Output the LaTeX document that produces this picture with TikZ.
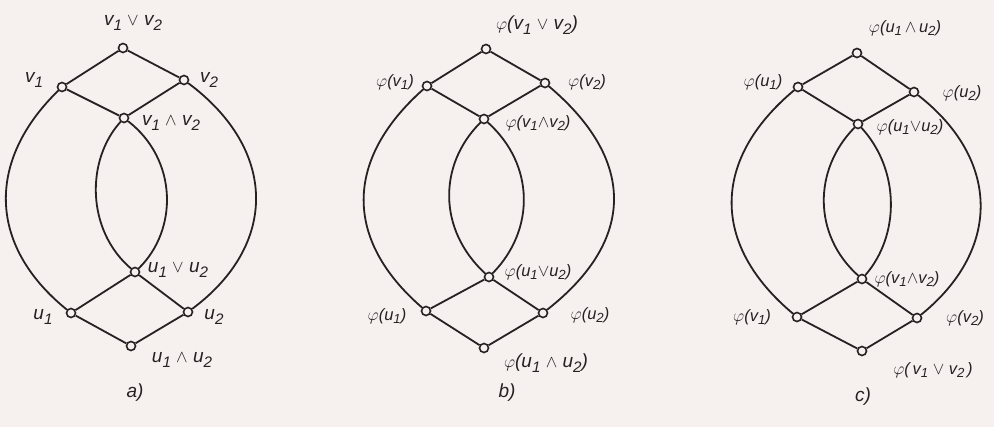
\documentclass[tikz,border=0pt]{standalone}
\usepackage{fontspec}
\usepackage{graphicx}
\newfontfamily\lblfont{Liberation Sans}
\definecolor{paper}{RGB}{246,240,239}
\definecolor{ink}{RGB}{38,34,34}
\newcommand{\sbs}[1]{\raisebox{-0.45ex}{\scalebox{0.8}{#1}}}
\newcommand{\V}[1]{v\sbs{#1}}
\newcommand{\U}[1]{u\sbs{#1}}
\newcommand{\J}{$\vee$}
\newcommand{\M}{$\wedge$}
\newcommand{\F}{$\varphi$}
\tikzset{
  vtx/.style={circle, draw=ink, fill=paper, line width=1.6pt, inner sep=0pt, minimum size=9pt},
  edge/.style={draw=ink, line width=1.8pt},
  lbl/.style={font=\lblfont\itshape\fontsize{19}{19}\selectfont, text=ink, inner sep=0pt},
  slbl/.style={font=\lblfont\itshape\fontsize{16.5}{16.5}\selectfont, text=ink, inner sep=0pt},
}
\begin{document}
\begin{tikzpicture}[x=1pt,y=-1pt]
\fill[paper] (0,0) rectangle (994,427);
\useasboundingbox (0,0) rectangle (994,427);

% ---------- a) ----------
\node[vtx] (at) at (123,48) {};
\node[vtx] (av1) at (62,87) {};
\node[vtx] (av2) at (184,80) {};
\node[vtx] (avm) at (124,118) {};
\node[vtx] (auj) at (135,272) {};
\node[vtx] (au1) at (71,313) {};
\node[vtx] (au2) at (188,312) {};
\node[vtx] (ab) at (131,346) {};
\draw[edge] (at) -- (av1); \draw[edge] (at) -- (av2);
\draw[edge] (av1) -- (avm); \draw[edge] (av2) -- (avm);
\draw[edge] (auj) -- (au1); \draw[edge] (auj) -- (au2);
\draw[edge] (au1) -- (ab); \draw[edge] (au2) -- (ab);
\draw[edge] (av1) .. controls (-13,160) and (-13,245) .. (au1);
\draw[edge] (av2) .. controls (278,150) and (278,245) .. (au2);
\draw[edge] (avm) .. controls (86,160) and (86,230) .. (auj);
\draw[edge] (avm) .. controls (178,160) and (178,230) .. (auj);
\node[lbl] (lat) at (133,23) {\V1 \J\ \V2};
\node[lbl] (lav1) at (34,80) {\V1};
\node[lbl] (lav2) at (209,80) {\V2};
\node[lbl] (lavm) at (171,123) {\V1 \M\ \V2};
\node[lbl] (lauj) at (178,270) {\U1 \J\ \U2};
\node[lbl] (lau1) at (43,317) {\U1};
\node[lbl] (lau2) at (214,317) {\U2};
\node[lbl] (lab) at (182,360) {\U1 \M\ \U2};
\node[lbl] (capa) at (135,393) {a)};

% ---------- b) ----------
\node[vtx] (bt) at (486,49) {};
\node[vtx] (bv1) at (427,86) {};
\node[vtx] (bv2) at (545,83) {};
\node[vtx] (bvm) at (484,119) {};
\node[vtx] (buj) at (489,277) {};
\node[vtx] (bu1) at (426,311) {};
\node[vtx] (bu2) at (543,313) {};
\node[vtx] (bb) at (484,348) {};
\draw[edge] (bt) -- (bv1); \draw[edge] (bt) -- (bv2);
\draw[edge] (bv1) -- (bvm); \draw[edge] (bv2) -- (bvm);
\draw[edge] (buj) -- (bu1); \draw[edge] (buj) -- (bu2);
\draw[edge] (bu1) -- (bb); \draw[edge] (bu2) -- (bb);
\draw[edge] (bv1) .. controls (344,160) and (344,240) .. (bu1);
\draw[edge] (bv2) .. controls (636,160) and (636,240) .. (bu2);
\draw[edge] (bvm) .. controls (438,165) and (438,230) .. (buj);
\draw[edge] (bvm) .. controls (535,165) and (535,230) .. (buj);
\node[lbl] (lbt) at (537,25) {\F(\V1 \J\ \V2)};
\node[slbl] (lbv1) at (395,82) {\F(\V1)};
\node[slbl] (lbv2) at (587,82) {\F(\V2)};
\node[slbl] (lbvm) at (538,123) {\F(\V1\M\V2)};
\node[slbl] (lbuj) at (538,272) {\F(\U1\J\U2)};
\node[slbl] (lbu1) at (387,316) {\F(\U1)};
\node[slbl] (lbu2) at (590,315) {\F(\U2)};
\node[lbl] (lbb) at (546,363) {\F(\U1 \M\ \U2)};
\node[lbl] (capb) at (507,393) {b)};

% ---------- c) ----------
\node[vtx] (ct) at (857,53) {};
\node[vtx] (cu1) at (798,87) {};
\node[vtx] (cu2) at (914,92) {};
\node[vtx] (cuj) at (858,124) {};
\node[vtx] (cvm) at (862,279) {};
\node[vtx] (cv1) at (797,317) {};
\node[vtx] (cv2) at (917,318) {};
\node[vtx] (cb) at (862,351) {};
\draw[edge] (ct) -- (cu1); \draw[edge] (ct) -- (cu2);
\draw[edge] (cu1) -- (cuj); \draw[edge] (cu2) -- (cuj);
\draw[edge] (cvm) -- (cv1); \draw[edge] (cvm) -- (cv2);
\draw[edge] (cv1) -- (cb); \draw[edge] (cv2) -- (cb);
\draw[edge] (cu1) .. controls (711,160) and (711,245) .. (cv1);
\draw[edge] (cu2) .. controls (1001,160) and (1001,250) .. (cv2);
\draw[edge] (cuj) .. controls (813,170) and (813,235) .. (cvm);
\draw[edge] (cuj) .. controls (900,170) and (900,235) .. (cvm);
\node[slbl] (lct) at (905,28) {\F(\U1\,\M\,\U2)};
\node[slbl] (lcu1) at (763,82) {\F(\U1)};
\node[slbl] (lcu2) at (962,93) {\F(\U2)};
\node[slbl] (lcuj) at (910,127) {\F(\U1\J\U2)};
\node[slbl] (lcvm) at (907,279) {\F(\V1\M\V2)};
\node[slbl] (lcv1) at (752,317) {\F(\V1)};
\node[slbl] (lcv2) at (965,318) {\F(\V2)};
\node[slbl] (lcb) at (933,370) {\F(\,\V1 \J\ \V2\,)};
\node[lbl] (capc) at (863,397) {c)};
\end{tikzpicture}
\end{document}
